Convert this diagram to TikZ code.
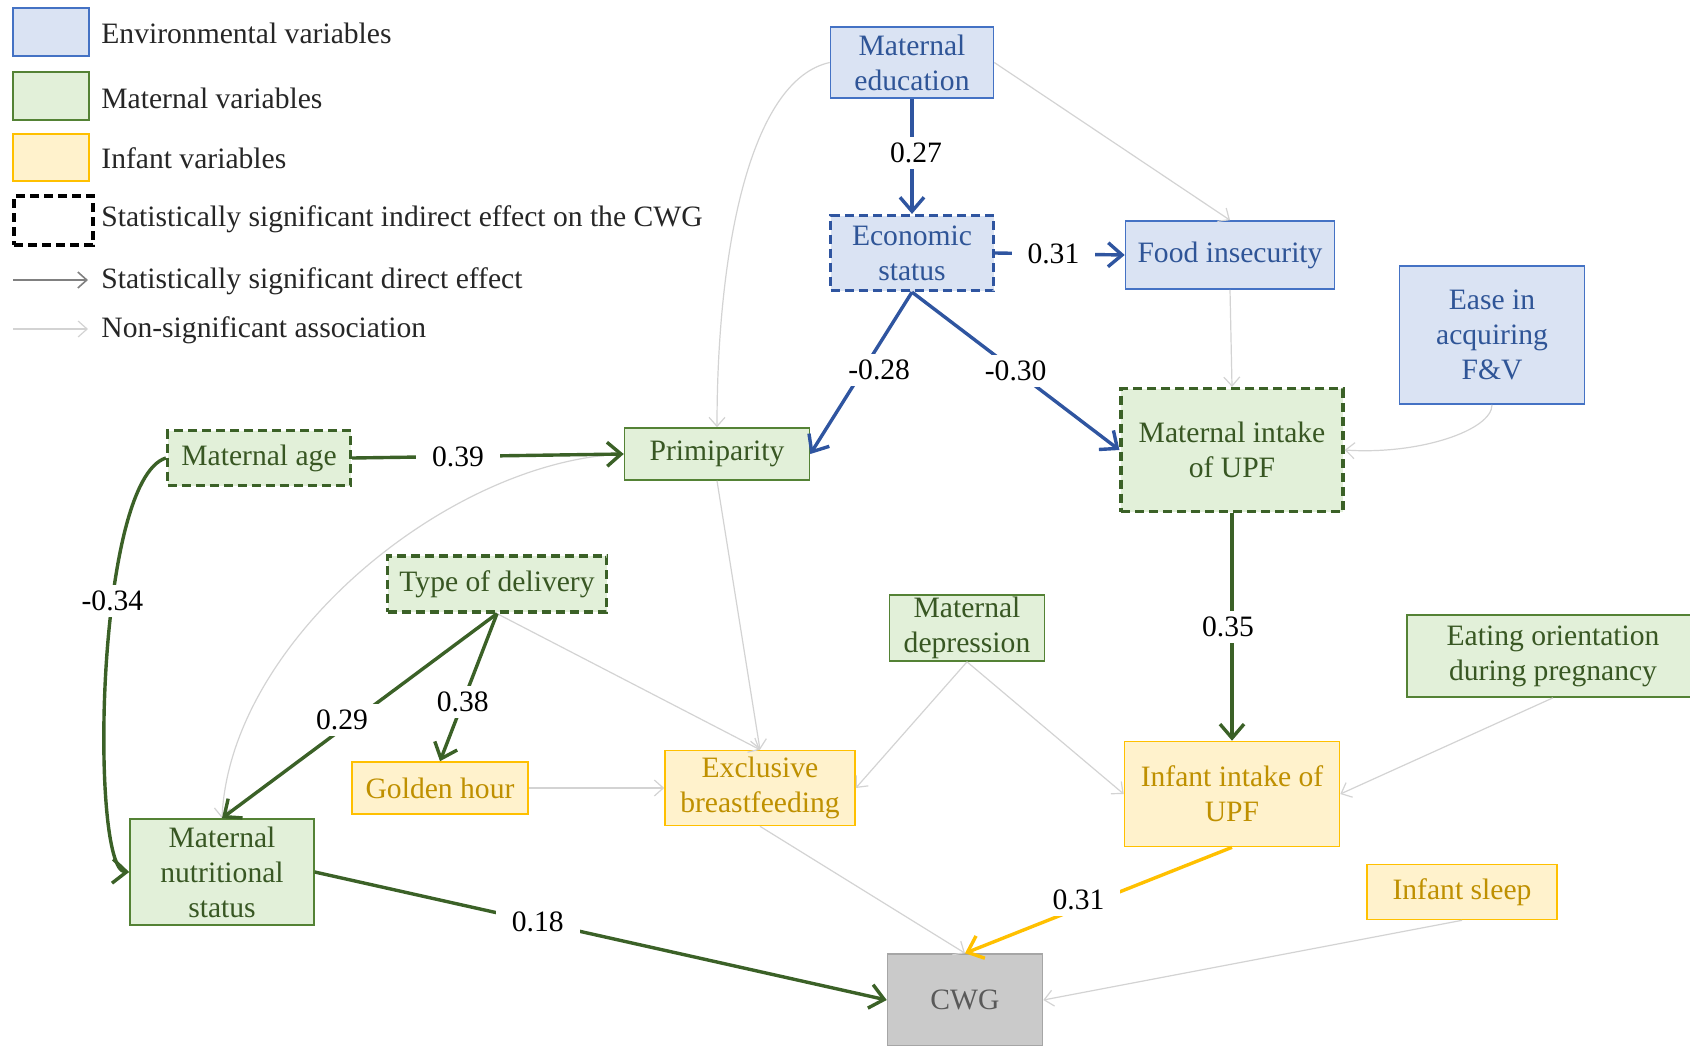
\documentclass[tikz,border=0pt]{standalone}
\usepackage{fontspec}
\setmainfont{Liberation Serif}
\usetikzlibrary{arrows.meta}
\definecolor{envfill}{HTML}{DAE3F3}
\definecolor{envdraw}{HTML}{4472C4}
\definecolor{envtext}{HTML}{2F5597}
\definecolor{envarrow}{HTML}{2F55A0}
\definecolor{matfill}{HTML}{E2F0D9}
\definecolor{matdraw}{HTML}{548235}
\definecolor{mattext}{HTML}{385723}
\definecolor{matarrow}{HTML}{3B6127}
\definecolor{inffill}{HTML}{FFF2CC}
\definecolor{infdraw}{HTML}{FFC000}
\definecolor{inftext}{HTML}{BF9000}
\definecolor{infarrow}{HTML}{FFC000}
\definecolor{cwgfill}{HTML}{CACACA}
\definecolor{cwgdraw}{HTML}{A6A6A6}
\definecolor{cwgtext}{HTML}{595959}
\definecolor{nsgrey}{HTML}{D3D3D3}
\definecolor{leggrey}{HTML}{808080}
\begin{document}
\begin{tikzpicture}[x=0.5pt,y=-0.5pt,
  font=\fontsize{14.8}{17.5}\selectfont,
  box/.style={draw, line width=0.8pt, align=center, inner sep=0pt},
  sz/.style n args={2}{minimum width=#1*0.5pt, minimum height=#2*0.5pt},
  env/.style={box, fill=envfill, draw=envdraw, text=envtext},
  mat/.style={box, fill=matfill, draw=matdraw, text=mattext},
  inf/.style={box, fill=inffill, draw=infdraw, text=inftext},
  dashbox/.style={line width=1.6pt, dash pattern=on 4.5pt off 2.5pt},
  sigenv/.style={env, dashbox, draw=envarrow},
  sigmat/.style={mat, dashbox, draw=matarrow},
  lbl/.style={fill=white, inner xsep=8pt, inner ysep=3pt, text=black},
  legtxt/.style={anchor=west, inner sep=0pt, text=black!85},
  sig/.style={line width=1.7pt, -{Straight Barb[length=7pt,width=12pt]}},
  ns/.style={draw=nsgrey, line width=0.6pt, -{Straight Barb[length=4.5pt,width=8pt]}},
]
\useasboundingbox (0,0) rectangle (1690,1045);

% ---------- legend ----------
\node[env, sz={76}{48}] (lenv) at (51,32) {};
\node[mat, sz={76}{48}] (lmat) at (51,96) {};
\node[inf, sz={76}{47}] (linf) at (51,157.5) {};
\node[draw=black, dashbox, sz={79}{49}] (lsig) at (53.5,220.5) {};
\coordinate (la1) at (13,280); \coordinate (la2) at (88,280);
\coordinate (lb1) at (13,329); \coordinate (lb2) at (88,329);
\draw[draw=leggrey, line width=0.8pt, -{Straight Barb[length=4.5pt,width=8pt]}] (la1) -- (la2);
\draw[ns] (lb1) -- (lb2);
\node[legtxt] (t1) at (101,33) {Environmental variables};
\node[legtxt] (t2) at (101,98) {Maternal variables};
\node[legtxt] (t3) at (101,158) {Infant variables};
\node[legtxt] (t4) at (101,219) {Statistically significant indirect effect on the CWG};
\node[legtxt] (t5) at (101,281) {Statistically significant direct effect};
\node[legtxt] (t6) at (101,330) {Non-significant association};

% ---------- nodes ----------
\node[env, sz={163}{71}] (me) at (912,62.5) {Maternal\\education};
\node[sigenv, sz={163}{75}] (es) at (912,253) {Economic\\status};
\node[env, sz={209}{68}] (fi) at (1230,255) {Food insecurity};
\node[env, sz={185}{138}] (ease) at (1492,335) {Ease in\\acquiring\\F\&V};
\node[sigmat, sz={222}{123}] (miupf) at (1232,450) {Maternal intake\\of UPF};
\node[mat, sz={185}{52}] (prim) at (717,454) {Primiparity};
\node[sigmat, sz={183}{55}] (mage) at (259,458) {Maternal age};
\node[sigmat, sz={219}{56}] (td) at (497,584) {Type of delivery};
\node[mat, sz={155}{66}] (md) at (967,628) {Maternal\\depression};
\node[mat, sz={292}{82}] (eo) at (1553,656) {Eating orientation\\during pregnancy};
\node[inf, sz={215}{105}] (iiupf) at (1232,794) {Infant intake of\\UPF};
\node[inf, sz={176}{52}] (gh) at (440,788) {Golden hour};
\node[inf, sz={190}{75}] (ebf) at (760,788) {Exclusive\\breastfeeding};
\node[mat, sz={184}{106}] (mns) at (222,872) {Maternal\\nutritional\\status};
\node[inf, sz={190}{55}] (is) at (1462,892) {Infant sleep};
\node[box, fill=cwgfill, draw=cwgdraw, text=cwgtext, sz={155}{92}] (cwg) at (965,1000) {CWG};

% ---------- non-significant associations ----------
\draw[ns] (me.west) .. controls (750,80) and (717,250) .. (prim.north);
\draw[ns] (me.east) -- (fi.north);
\draw[ns] (fi.south) -- (miupf.north);
\draw[ns] (ease.south) .. controls (1492,430) and (1420,455) .. (miupf.east);
\draw[ns] (prim.west) .. controls (450,460) and (230,640) .. (mns.north);
\draw[ns] (prim.south) -- (ebf.north);
\draw[ns] (td.south) -- (ebf.north);
\draw[ns] (gh.east) -- (ebf.west);
\draw[ns] (md.south) -- (ebf.east);
\draw[ns] (md.south) -- (iiupf.west);
\draw[ns] (eo.south) -- (iiupf.east);
\draw[ns] (ebf.south) -- (cwg.north);
\draw[ns] (is.south) -- (cwg.east);

% ---------- significant effects ----------
\draw[sig, envarrow] (me.south) -- node[lbl, pos=0.47, xshift=2pt] {0.27} (es.north);
\draw[sig, envarrow] (es.east) -- node[lbl, pos=0.45] {0.31} (fi.west);
\draw[sig, envarrow] (es.south) -- node[lbl, pos=0.48, xshift=8pt] {-0.28} (prim.east);
\draw[sig, envarrow] (es.south) -- node[lbl, pos=0.5] {-0.30} (miupf.west);
\draw[sig, matarrow] (mage.east) -- node[lbl, pos=0.39] {0.39} (prim.west);
\draw[sig, matarrow] (mage.west) .. controls (95,480) and (90,870) .. node[lbl, pos=0.38] {-0.34} (mns.west);
\draw[sig, matarrow] (td.south) -- node[lbl, pos=0.52, xshift=-6pt] {0.29} (mns.north);
\draw[sig, matarrow] (td.south) -- node[lbl, pos=0.6] {0.38} (gh.north);
\draw[sig, matarrow] (miupf.south) -- node[lbl, pos=0.5, xshift=-2pt] {0.35} (iiupf.north);
\draw[sig, matarrow] (mns.east) -- node[lbl, pos=0.39] {0.18} (cwg.west);
\draw[sig, infarrow] (iiupf.south) -- node[lbl, pos=0.5, xshift=-10pt] {0.31} (cwg.north);
\end{tikzpicture}
\end{document}
